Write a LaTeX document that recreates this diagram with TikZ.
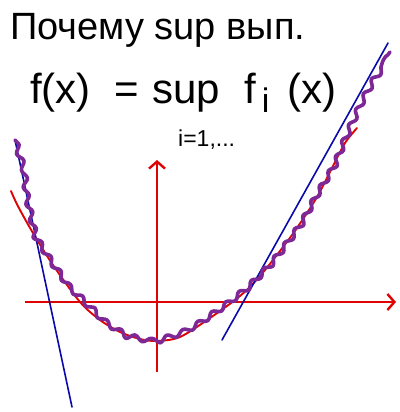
\documentclass[tikz,border=0pt]{standalone}
\usepackage{fontspec}
\setmainfont{Liberation Sans}
\usetikzlibrary{arrows.meta,decorations.pathmorphing}
\definecolor{axred}{RGB}{222,4,4}
\definecolor{tanblue}{RGB}{10,10,170}
\definecolor{wavpurple}{RGB}{125,40,150}

\begin{document}
\begin{tikzpicture}[x=1pt,y=-1pt,>={Straight Barb[length=7pt,width=16pt]},
ax/.style={draw=axred,line width=2.4pt,->},
crv/.style={draw=axred,line width=1.9pt,line cap=round},
tan/.style={draw=tanblue,line width=1.6pt,line cap=round},
wav/.style={draw=wavpurple,line width=3.6pt,line cap=round,line join=round,
  decorate,decoration={snake,segment length=17pt,amplitude=2.6pt}},
txt/.style={inner sep=0pt,anchor=base west}]
\useasboundingbox (0,0) rectangle (399,412);
% heading and formula
\node[txt,font=\fontsize{38}{38}\selectfont] (title) at (10,40) {Почему sup вып.};
\node[txt,font=\fontsize{42}{42}\selectfont] (eq) at (30,103)
  {f(x)\hspace{24pt}=\hspace{13pt}sup\hspace{24pt}f\hspace{6pt}\raisebox{-9pt}{\fontsize{34}{34}\selectfont i}\hspace{18pt}(x)};
\node[txt,font=\fontsize{23}{23}\selectfont] (idx) at (178,146) {i=1,...};
% axes
\coordinate (xs) at (25,302); \coordinate (xe) at (396,302);
\coordinate (ys) at (157,372); \coordinate (ye) at (157,160);
\draw[ax] (xs) -- (xe);
\draw[ax] (ys) -- (ye);
% parabola
\draw[crv] plot[smooth] coordinates {(11,191) (14,198) (20,210) (33,233) (53,265) (80,302)
  (100,320) (120,332) (140,339) (157,341) (180,337) (210,318) (240,296) (260,276)
  (280,251) (297,228) (317,197) (333,166) (345,143) (357,128)};
% tangents
\coordinate (la) at (15,140); \coordinate (lb) at (72,407);
\coordinate (ra) at (222,340); \coordinate (rb) at (388,43);
\draw[tan] (la) -- (lb);
\draw[tan] (ra) -- (rb);
% supremum
\draw[wav] plot coordinates {(15,140) (22,163) (25,193) (33,230) (47,252) (67,281)
  (87,300) (107,320) (127,333) (147,337) (160,336) (180,329) (200,318) (223,302)
  (247,283) (270,260) (283,243) (300,220) (315,192) (333,162) (345,132) (360,99)
  (373,75) (390,52)};
\end{tikzpicture}
\end{document}
